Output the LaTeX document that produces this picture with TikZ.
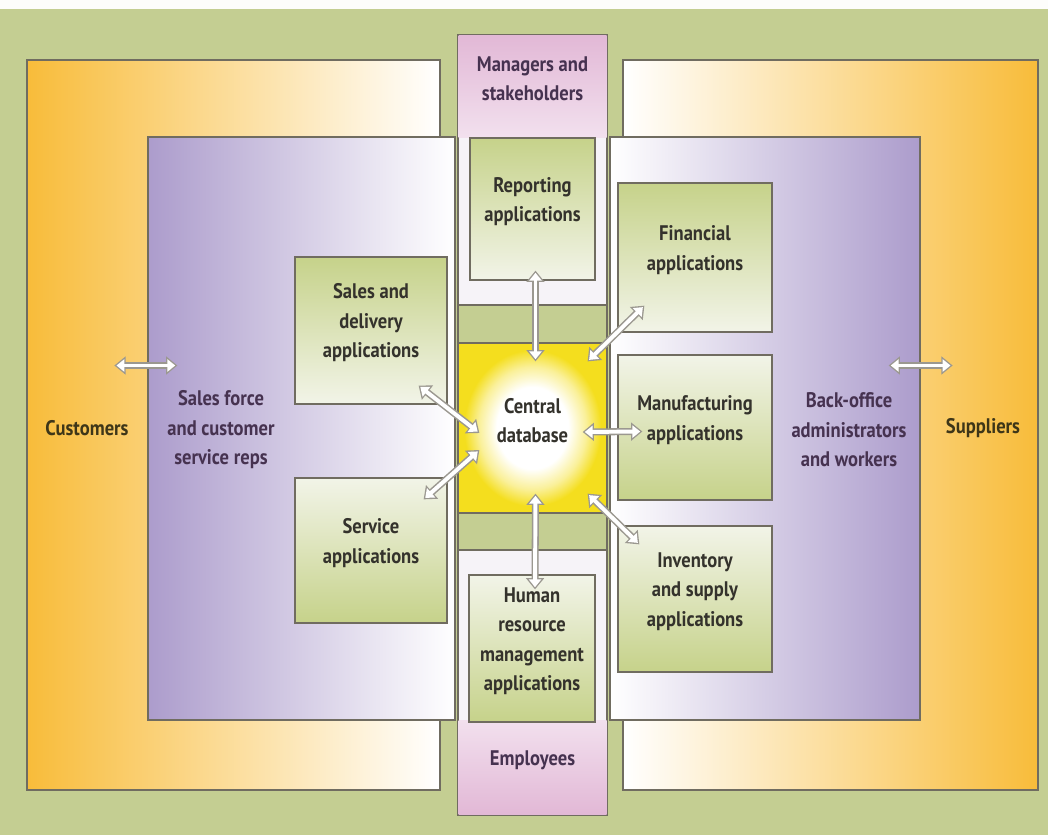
\documentclass[tikz,border=0pt]{standalone}
\usepackage{fontspec}
\setmainfont{PT Sans}[FakeStretch=0.88]
\usetikzlibrary{arrows.meta,calc,fit}

\definecolor{bggreen}{RGB}{196,206,146}
\definecolor{edgegray}{RGB}{112,108,96}
\definecolor{custorange}{RGB}{248,188,58}
\definecolor{paleyellow}{RGB}{250,226,150}
\definecolor{purpleL}{RGB}{172,156,204}
\definecolor{lavender}{RGB}{222,216,238}
\definecolor{pinkD}{RGB}{226,184,214}
\definecolor{pinkL}{RGB}{242,224,238}
\definecolor{colwhite}{RGB}{246,243,248}
\definecolor{appgreen}{RGB}{198,210,138}
\definecolor{applight}{RGB}{242,244,232}
\definecolor{dbyellow}{RGB}{244,222,30}
\colorlet{dbmid}{dbyellow!45!white}
\definecolor{inkdark}{RGB}{52,50,44}
\definecolor{inkolive}{RGB}{62,54,24}
\definecolor{inkpurple}{RGB}{70,50,80}

\pgfdeclareradialshading{dbglow}{\pgfpoint{0bp}{0bp}}{color(0bp)=(white); color(12bp)=(white); color(18bp)=(dbmid); color(23bp)=(dbyellow); color(50bp)=(dbyellow)}

\begin{document}
\begin{tikzpicture}[x=0.025cm, y=-0.025cm,
	every node/.style={font=\fontsize{15}{21}\selectfont\bfseries, align=center},
	panel/.style={draw=edgegray, line width=0.9pt, inner sep=0pt},
	appbox/.style={draw=edgegray, line width=0.9pt, inner sep=0pt, text=inkdark},
	upperapp/.style={appbox, top color=appgreen, bottom color=applight},
	lowerapp/.style={appbox, top color=applight, bottom color=appgreen},
	dblarrow/.style={draw=white, line width=2.8pt,
		{Triangle[width=8.6pt,length=5.6pt]}-{Triangle[width=8.6pt,length=5.6pt]},
		shorten <=1.5pt, shorten >=1.5pt,
		preaction={draw=edgegray!70, line width=5pt,
			{Triangle[width=12.5pt,length=8pt]}-{Triangle[width=12.5pt,length=8pt]},
			shorten <=0pt, shorten >=0pt}}]
	\useasboundingbox (0,0) rectangle (1048,835);
	\fill[bggreen] (0,9) rectangle (1048,835);
	\fill[white!96!bggreen] (0,0) rectangle (1048,9);

	% outer and staff panels
	\node[panel, fit={(27,60)(440,790)}, left color=custorange, middle color=paleyellow, right color=white] (custpanel) {};
	\node[panel, fit={(623,60)(1038,790)}, left color=white, middle color=paleyellow, right color=custorange] (supppanel) {};
	\node[panel, fit={(148,137)(455,720)}, left color=purpleL, middle color=lavender, right color=white] (salespanel) {};
	\node[panel, fit={(610,137)(920,720)}, left color=white, middle color=lavender, right color=purpleL] (backpanel) {};

	% centre column
	\node[panel, fit={(458,35)(607,815)}, fill=colwhite] (column) {};
	\node[inner sep=0pt, fit={(458.5,35.5)(606.5,137)}, top color=pinkD, bottom color=pinkL, text=inkpurple] (managers) {Managers and\\stakeholders};
	\node[inner sep=0pt, fit={(458.5,720)(606.5,814.5)}, top color=pinkL, bottom color=pinkD, text=inkpurple] (employees) {Employees};
	\node[panel, fit={(458,305)(607,343)}, fill=bggreen] (bandtop) {};
	\node[panel, fit={(458,513)(607,550)}, fill=bggreen] (bandbot) {};
	\node[panel, fit={(458,343)(607,513)}, shade, shading=dbglow, text=inkdark] (db) {Central\\database};

	% applications
	\node[upperapp, fit={(470,138)(595,280)}] (report) {Reporting\\applications};
	\node[upperapp, fit={(295,257)(447,404)}] (sales) {Sales and\\delivery\\applications};
	\node[lowerapp, fit={(295,478)(447,623)}] (serv) {Service\\applications};
	\node[upperapp, fit={(618,183)(772,332)}] (fin) {Financial\\applications};
	\node[lowerapp, fit={(618,355)(772,500)}] (manuf) {Manufacturing\\applications};
	\node[lowerapp, fit={(618,526)(772,672)}] (inv) {Inventory\\and supply\\applications};
	\node[lowerapp, fit={(469,575)(595,722)}] (hrm) {Human\\resource\\management\\applications};

	% people
	\node[text=inkolive] (customers) at (87,428) {Customers};
	\node[text=inkpurple] (salesforce) at (221,430) {Sales force\\and customer\\service reps};
	\node[text=inkpurple] (backoffice) at (849,430) {Back-office\\administrators\\and workers};
	\node[text=inkolive] (suppliers) at (983,428) {Suppliers};

	% data flows
	\draw[dblarrow] ($(report.south)+(3,-10)$) -- ($(db.north)+(3,19)$);
	\draw[dblarrow] ($(db.south)+(3,-20)$) -- ($(hrm.north)+(3,15)$);
	\draw[dblarrow] ($(fin.south west)+(27,-27)$) -- ($(db.north east)+(-20,19)$);
	\draw[dblarrow] ($(db.east)+(-25,4)$) -- ($(manuf.west)+(25,4)$);
	\draw[dblarrow] ($(db.south east)+(-20,-20)$) -- ($(inv.north west)+(22,19)$);
	\draw[dblarrow] ($(sales.south east)+(-29,-19)$) -- ($(db.west)+(22,5)$);
	\draw[dblarrow] ($(db.west)+(22,22)$) -- ($(serv.north east)+(-24,22)$);
	\draw[dblarrow] ($(salespanel.west)+(-33,-63)$) -- ($(salespanel.west)+(30,-63)$);
	\draw[dblarrow] ($(backpanel.east)+(-32,-63)$) -- ($(backpanel.east)+(32,-63)$);
\end{tikzpicture}
\end{document}
